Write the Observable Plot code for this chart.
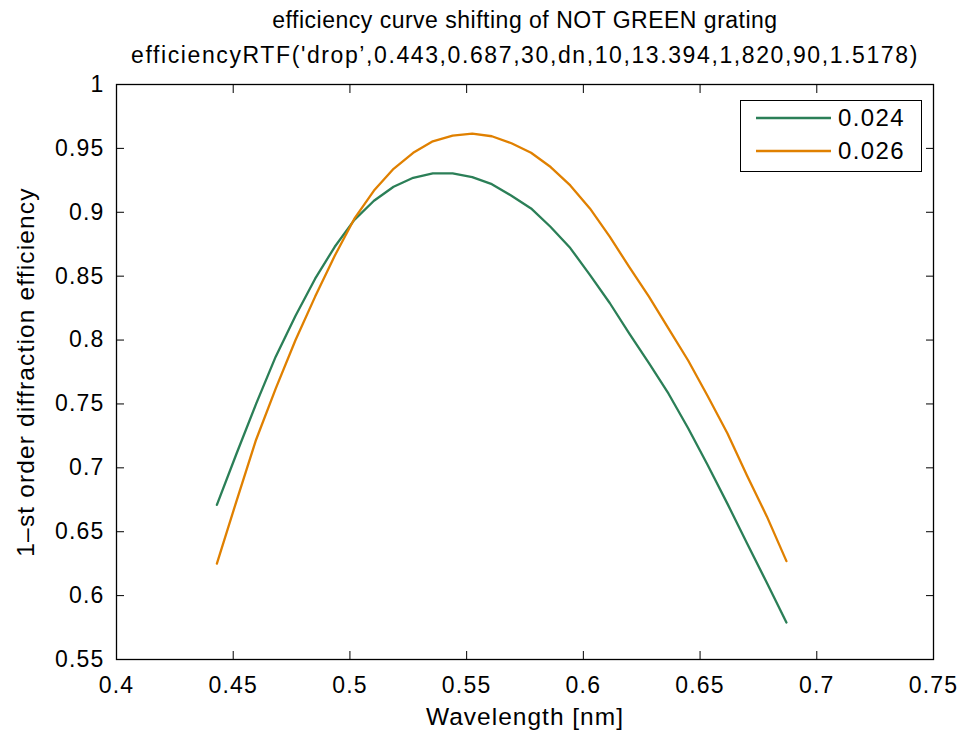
<!DOCTYPE html>
<html>
<head>
<meta charset="utf-8">
<script src="https://cdn.jsdelivr.net/npm/d3@7"></script>
<script src="https://cdn.jsdelivr.net/npm/@observablehq/plot@0.6"></script>
<style>
  html, body { margin: 0; padding: 0; background: #fff; }
  #wrap { position: relative; width: 964px; height: 730px; font-family: "Liberation Sans", Arial, Helvetica, sans-serif; color: #000; }
  #title { position: absolute; left: 100px; width: 850px; top: 3px; text-align: center; line-height: 35px; }
  #title .t1 { font-size: 23px; letter-spacing: 0.5px; }
  #title .t2 { font-size: 23px; letter-spacing: 1.6px; }
  #chart { position: absolute; left: 0; top: 70px; }
  #legend { position: absolute; left: 740px; top: 100px; width: 180px; height: 70px; border: 1.3px solid #000; background: #fff; font-size: 24px; letter-spacing: 1.4px; }
  .row { position: absolute; left: 0; display: flex; align-items: center; height: 32px; }
  .row svg { margin-left: 15px; margin-right: 7px; }
  #chart g[aria-label="x-axis tick label"] text, #chart g[aria-label="y-axis tick label"] text { letter-spacing: 1.2px; }
  #chart g[aria-label="x-axis label"] text { letter-spacing: 1px; }
  #chart g[aria-label="y-axis label"] text { letter-spacing: 1.15px; }
</style>
</head>
<body>
<div id="wrap">
  <div id="title"></div>
  <div id="chart"></div>
  <div id="legend"></div>
</div>
<script>
const titleLines = [
  "efficiency curve shifting of NOT GREEN grating",
  "efficiencyRTF('drop’,0.443,0.687,30,dn,10,13.394,1,820,90,1.5178)"
];
const xLabel = "Wavelength [nm]";
const yLabel = "1–st order diffraction efficiency";

const wavelength = [0.4430,0.4514,0.4598,0.4682,0.4767,0.4851,0.4935,0.5019,0.5103,0.5187,
                    0.5271,0.5355,0.5440,0.5524,0.5608,0.5692,0.5776,0.5860,0.5944,0.6028,
                    0.6113,0.6197,0.6281,0.6365,0.6449,0.6533,0.6617,0.6701,0.6786,0.6870];
const eff024 = [0.671,0.711,0.750,0.787,0.819,0.848,0.873,0.894,0.909,0.920,
                0.927,0.9305,0.9305,0.9275,0.922,0.913,0.903,0.8885,0.872,0.851,
                0.829,0.805,0.782,0.758,0.731,0.702,0.672,0.641,0.610,0.579];
const eff026 = [0.625,0.674,0.722,0.762,0.800,0.834,0.866,0.895,0.917,0.934,
                0.9465,0.9555,0.960,0.9615,0.9595,0.954,0.9466,0.9354,0.921,0.903,
                0.881,0.857,0.834,0.809,0.784,0.756,0.727,0.694,0.662,0.627];
const seriesNames = ["0.024", "0.026"];
const seriesColors = ["#2b7f57", "#e08000"];

const xTicks = [0.4,0.45,0.5,0.55,0.6,0.65,0.7,0.75];
const xTickLabels = ["0.4","0.45","0.5","0.55","0.6","0.65","0.7","0.75"];
const yTicks = [0.55,0.6,0.65,0.7,0.75,0.8,0.85,0.9,0.95,1];
const yTickLabels = ["0.55","0.6","0.65","0.7","0.75","0.8","0.85","0.9","0.95","1"];

const data = [];
[eff024, eff026].forEach((arr, s) => arr.forEach((v, i) => data.push({x: wavelength[i], y: v, s: seriesNames[s]})));

const esc = t => t.replace(/&/g,"&amp;").replace(/</g,"&lt;");
document.getElementById("title").innerHTML = titleLines.map((t, i) => `<div class="t${i+1}">${esc(t)}</div>`).join("");

const xFmt = d => xTickLabels[xTicks.indexOf(d)] ?? "";
const yFmt = d => yTickLabels[yTicks.indexOf(d)] ?? "";

const chart = Plot.plot({
  width: 964,
  height: 660,
  marginLeft: 116,
  marginRight: 31,
  marginTop: 14,
  marginBottom: 71,
  style: {fontFamily: '"Liberation Sans", Arial, Helvetica, sans-serif', fontSize: "23px", color: "#000", background: "#fff", overflow: "visible"},
  x: {domain: [0.4, 0.75]},
  y: {domain: [0.55, 1]},
  color: {domain: seriesNames, range: seriesColors},
  marks: [
    Plot.line(data, {x: "x", y: "y", z: "s", stroke: "s", strokeWidth: 2.3}),
    Plot.axisX(xTicks, {anchor: "bottom", tickSize: -8, tickPadding: 25, tickFormat: xFmt, label: null, stroke: "#000"}),
    Plot.axisX(xTicks, {anchor: "bottom", tickSize: 0, tickFormat: () => "", label: xLabel, labelAnchor: "center", labelArrow: "none", labelOffset: 65, fontSize: 24.5}),
    Plot.axisX(xTicks, {anchor: "top", tickSize: -8, tickFormat: () => "", label: null, stroke: "#000"}),
    Plot.axisY(yTicks, {anchor: "left", tickSize: -8, tickPadding: 20, tickFormat: yFmt, label: null, stroke: "#000"}),
    Plot.axisY(yTicks, {anchor: "left", tickSize: 0, tickFormat: () => "", label: yLabel, labelAnchor: "center", labelArrow: "none", labelOffset: 100, fontSize: 24.5}),
    Plot.axisY(yTicks, {anchor: "right", tickSize: -8, tickFormat: () => "", label: null, stroke: "#000"}),
    Plot.frame({stroke: "#000", strokeWidth: 1.3})
  ]
});
document.getElementById("chart").appendChild(chart);

const legend = document.getElementById("legend");
seriesNames.forEach((name, i) => {
  const row = document.createElement("div");
  row.className = "row";
  row.style.top = (i === 0 ? 1 : 34) + "px";
  row.innerHTML = `<svg width="75" height="4"><line x1="0" x2="75" y1="2" y2="2" stroke="${seriesColors[i]}" stroke-width="2.3"/></svg><span>${name}</span>`;
  legend.appendChild(row);
});
</script>
</body>
</html>
